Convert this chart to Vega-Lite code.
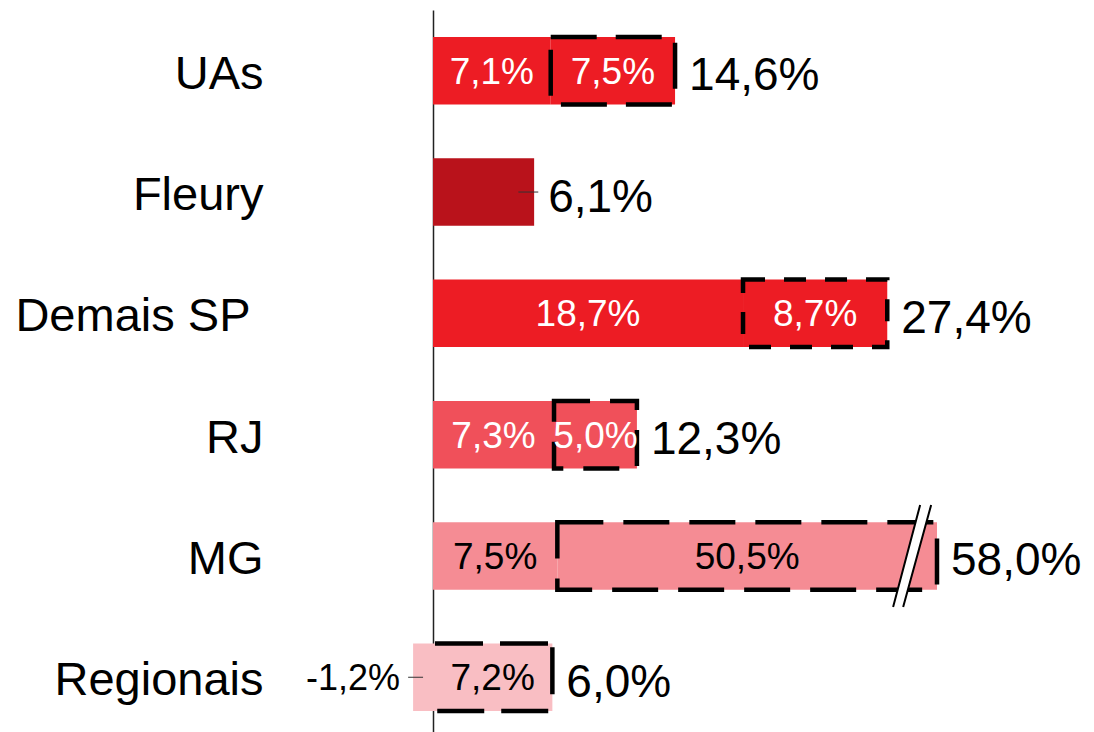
{
  "$schema": "https://vega.github.io/schema/vega-lite/v6.json",
  "width": 661,
  "height": 722,
  "autosize": {"type": "none"},
  "padding": {"left": 433, "top": 10, "right": 0, "bottom": 0},
  "background": "white",
  "config": {"view": {"stroke": null}, "font": "Liberation Sans", "text": {"font": "Liberation Sans"}},
  "datasets": {
    "segments": [
      {"cat": "UAs", "start": 0, "end": 7.1, "value": 7.1, "label": "7,1%", "dashed": false, "total": null},
      {"cat": "UAs", "start": 7.1, "end": 14.6, "value": 7.5, "label": "7,5%", "dashed": true, "total": "14,6%"},
      {"cat": "Fleury", "start": 0, "end": 6.1, "value": 6.1, "label": "", "dashed": false, "total": "6,1%"},
      {"cat": "Demais SP", "start": 0, "end": 18.7, "value": 18.7, "label": "18,7%", "dashed": false, "total": null},
      {"cat": "Demais SP", "start": 18.7, "end": 27.4, "value": 8.7, "label": "8,7%", "dashed": true, "total": "27,4%"},
      {"cat": "RJ", "start": 0, "end": 7.3, "value": 7.3, "label": "7,3%", "dashed": false, "total": null},
      {"cat": "RJ", "start": 7.3, "end": 12.3, "value": 5.0, "label": "5,0%", "dashed": true, "total": "12,3%"},
      {"cat": "MG", "start": 0, "end": 7.5, "value": 7.5, "label": "7,5%", "dashed": false, "total": null},
      {"cat": "MG", "start": 7.5, "end": 30.4, "value": 50.5, "label": "50,5%", "dashed": true, "total": "58,0%"},
      {"cat": "Regionais", "start": -1.2, "end": 0, "value": -1.2, "label": "", "outside": "-1,2%", "dashed": false, "total": null},
      {"cat": "Regionais", "start": 0, "end": 7.2, "value": 7.2, "label": "7,2%", "dashed": true, "total": "6,0%"}
    ],
    "breaks": [{"cat": "MG", "at": 28.9}]
  },
  "encoding": {
    "y": {
      "field": "cat",
      "type": "nominal",
      "sort": ["UAs", "Fleury", "Demais SP", "RJ", "MG", "Regionais"],
      "scale": {"range": [0, 728], "paddingInner": 0.4435, "paddingOuter": 0.2225},
      "axis": {
        "title": null,
        "domainColor": "#222222",
        "domainWidth": 1.5,
        "ticks": false,
        "tickSize": 0,
        "grid": false,
        "labelFont": "Liberation Sans",
        "labelFontSize": 47,
        "labelColor": "#000000",
        "labelPadding": {"condition": {"test": "datum.value === 'Demais SP'", "value": 183}, "value": 170},
        "labelOffset": 4,
        "labelLimit": 0
      }
    }
  },
  "layer": [
    {
      "data": {"name": "segments"},
      "mark": {"type": "bar"},
      "encoding": {
        "x": {"field": "start", "type": "quantitative", "scale": {"domain": [0, 39.87], "nice": false, "zero": false}, "axis": null},
        "x2": {"field": "end"},
        "color": {
          "field": "cat",
          "type": "nominal",
          "scale": {
            "domain": ["UAs", "Fleury", "Demais SP", "RJ", "MG", "Regionais"],
            "range": ["#ED1C24", "#B9121B", "#ED1C24", "#F0505A", "#F58C94", "#F9BEC3"]
          },
          "legend": null
        }
      }
    },
    {
      "data": {"name": "segments"},
      "transform": [{"filter": "datum.dashed"}],
      "mark": {"type": "bar", "fill": "transparent", "stroke": "#000000", "strokeWidth": 4.5},
      "encoding": {
        "x": {"field": "start", "type": "quantitative"},
        "x2": {"field": "end"},
        "strokeDash": {
          "field": "cat",
          "type": "nominal",
          "scale": {
            "domain": ["UAs", "Demais SP", "RJ", "MG", "Regionais"],
            "range": [[46, 19], [22, 19], [36, 20], [46, 20], [0, 2, 48, 17, 48, 8, 47, 21, 47, 17, 47, 80]]
          },
          "legend": null
        }
      }
    },
    {
      "data": {"name": "breaks"},
      "mark": {"type": "point", "shape": "M -0.373 1 L 0.157 -1 L 0.373 -1 L -0.176 1 Z", "filled": true, "fill": "#ffffff", "strokeWidth": 0, "size": 10404, "opacity": 1},
      "encoding": {
        "x": {"field": "at", "type": "quantitative"}
      }
    },
    {
      "data": {"name": "breaks"},
      "mark": {"type": "point", "shape": "M -0.373 1 L 0.157 -1 M -0.176 1 L 0.373 -1", "filled": false, "stroke": "#000000", "strokeWidth": 2, "size": 10404, "opacity": 1},
      "encoding": {
        "x": {"field": "at", "type": "quantitative"}
      }
    },
    {
      "data": {"name": "segments"},
      "transform": [
        {"filter": "datum.cat === 'Fleury'"},
        {"calculate": "datum.end - 0.95", "as": "l1"},
        {"calculate": "datum.end + 0.25", "as": "l2"}
      ],
      "mark": {"type": "rule", "color": "#333333", "strokeWidth": 1},
      "encoding": {
        "x": {"field": "l1", "type": "quantitative"},
        "x2": {"field": "l2"}
      }
    },
    {
      "data": {"name": "segments"},
      "transform": [
        {"filter": "datum.outside"},
        {"calculate": "datum.start - 0.3", "as": "l1"},
        {"calculate": "datum.start + 0.6", "as": "l2"}
      ],
      "mark": {"type": "rule", "color": "#333333", "strokeWidth": 1},
      "encoding": {
        "x": {"field": "l1", "type": "quantitative"},
        "x2": {"field": "l2"}
      }
    },
    {
      "data": {"name": "segments"},
      "transform": [
        {"filter": "datum.label !== ''"},
        {"calculate": "(datum.start + datum.end) / 2", "as": "mid"}
      ],
      "mark": {"type": "text", "font": "Liberation Sans", "fontSize": 37, "align": "center", "baseline": "middle", "dy": 2},
      "encoding": {
        "x": {"field": "mid", "type": "quantitative"},
        "text": {"field": "label"},
        "color": {
          "condition": {"test": "datum.cat === 'MG' || datum.cat === 'Regionais'", "value": "#000000"},
          "value": "#ffffff"
        }
      }
    },
    {
      "data": {"name": "segments"},
      "transform": [{"filter": "datum.outside"}],
      "mark": {"type": "text", "font": "Liberation Sans", "fontSize": 36, "align": "right", "baseline": "middle", "dx": -13, "dy": 2, "color": "#000000"},
      "encoding": {
        "x": {"field": "start", "type": "quantitative"},
        "text": {"field": "outside"}
      }
    },
    {
      "data": {"name": "segments"},
      "transform": [{"filter": "datum.total"}],
      "mark": {"type": "text", "font": "Liberation Sans", "fontSize": 46, "align": "left", "baseline": "middle", "dx": 14, "dy": 5.5, "color": "#000000"},
      "encoding": {
        "x": {"field": "end", "type": "quantitative"},
        "text": {"field": "total"}
      }
    }
  ]
}
